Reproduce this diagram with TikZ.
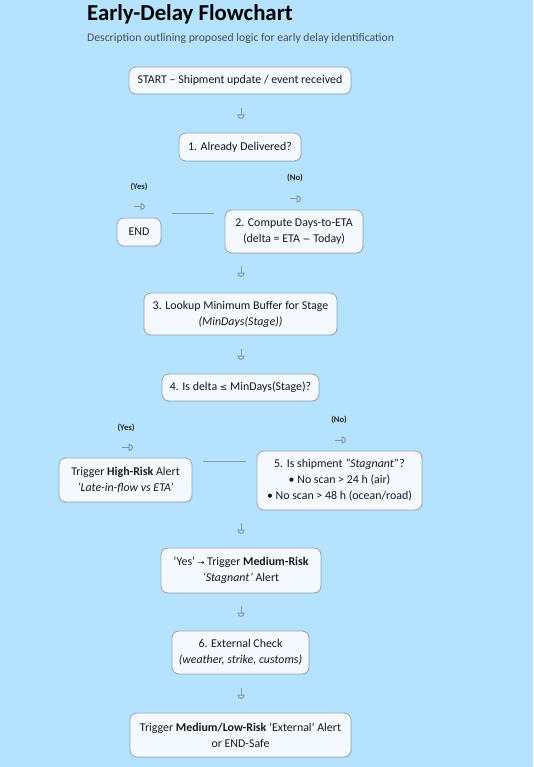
\documentclass[tikz,border=0pt]{standalone}
\usepackage{fontspec}
\setmainfont{Carlito}
\newfontfamily\symf{DejaVu Sans}
\usetikzlibrary{shadows}
\definecolor{bg}{HTML}{B5E2FF}
\definecolor{boxfill}{HTML}{F3F9FF}
\definecolor{boxline}{HTML}{9AA4AE}
\definecolor{conn}{HTML}{8A96A6}
\definecolor{subtxt}{HTML}{4A4F55}
\tikzset{
  box/.style={draw=boxline, line width=0.8pt, fill=boxfill, rounded corners=7pt,
    align=center, inner sep=0pt, text=black!90,
    font=\fontsize{11.9}{16}\selectfont,
    drop shadow={opacity=0.12, shadow xshift=0.8pt, shadow yshift=-1pt}},
  lbl/.style={font=\fontsize{8.6}{9}\selectfont\bfseries, text=black!85},
  hline/.style={draw=conn, line width=1.4pt},
  vtip/.pic={
    \draw[conn, line width=1pt] (0,-5) -- (0,2);
    \draw[conn, line width=1pt] (-3,2) -- (3,2) .. controls (3,6.5) and (-3,6.5) .. (-3,2) -- cycle;
  },
  htip/.pic={
    \draw[conn, line width=1pt] (-6,0) -- (1,0);
    \draw[conn, line width=1pt] (1,-3) -- (1,3) .. controls (5.5,3) and (5.5,-3) .. (1,-3) -- cycle;
  }
}
\begin{document}
\begin{tikzpicture}[x=1pt, y=-1pt]
\useasboundingbox (0,0) rectangle (533,767);
\fill[bg] (0,0) rectangle (533,767);

\node[anchor=base west, inner sep=0pt, font=\fontsize{22.8}{24}\selectfont\bfseries] (title) at (87,21) {Early-Delay Flowchart};
\node[anchor=base west, inner sep=0pt, text=subtxt, font=\fontsize{11.7}{12}\selectfont] (sub) at (87,42) {Description outlining proposed logic for early delay identification};

\node[box, minimum width=222, minimum height=27] (start) at (240,80.5) {START – Shipment update / event received};
\node[box, minimum width=122, minimum height=28] (b1) at (240,147) {1. Already Delivered?};
\node[box, minimum width=44, minimum height=28] (end) at (139,232) {END};
\node[box, minimum width=138, minimum height=43] (b2) at (294,231.5) {2. Compute Days-to-ETA\\(delta = ETA {\symf\fontsize{9.5}{16}\selectfont −} Today)};
\node[box, minimum width=193, minimum height=42] (b3) at (240.5,314) {3. Lookup Minimum Buffer for Stage\\\textit{(MinDays(Stage))}};
\node[box, minimum width=157, minimum height=27] (b4) at (240.5,387.5) {4. Is delta {\symf\fontsize{9}{16}\selectfont ≤} MinDays(Stage)?};
\node[box, minimum width=133, minimum height=44] (hr) at (125.5,480) {Trigger \textbf{High-Risk} Alert\\\textit{‘Late-in-flow vs ETA’}};
\node[box, minimum width=165, minimum height=59] (b5) at (339.5,480.5) {5. Is shipment \textit{“Stagnant”}?\\• No scan > 24 h (air)\\• No scan > 48 h (ocean/road)};
\node[box, minimum width=160, minimum height=45] (mr) at (241,570.5) {‘Yes’ {\symf\fontsize{8}{16}\selectfont →} Trigger \textbf{Medium-Risk}\\\textit{‘Stagnant’} Alert};
\node[box, minimum width=137, minimum height=43] (b6) at (240.5,652.5) {6. External Check\\\textit{(weather, strike, customs)}};
\node[box, minimum width=221, minimum height=44] (fin) at (240.5,735) {Trigger \textbf{Medium/Low-Risk} ‘External’ Alert\\or END-Safe};

% branch labels
\node[lbl] (yes1) at (139,186.5) {(Yes)};
\node[lbl] (no1) at (295,178) {(No)};
\node[lbl] (yes2) at (126,427.5) {(Yes)};
\node[lbl] (no2) at (339,419.5) {(No)};

% flow glyphs
\pic at (241,113) {vtip};
\pic at (241,271) {vtip};
\pic at (241,354) {vtip};
\pic at (241,528) {vtip};
\pic at (241,611) {vtip};
\pic at (241,693) {vtip};
\pic at (140,206.5) {htip};
\pic at (296,199) {htip};
\pic at (128,447.5) {htip};
\pic at (341,440) {htip};

% separator lines
\coordinate (l1a) at (172,213.3);
\coordinate (l1b) at (214,213.3);
\coordinate (l2a) at (203,461.7);
\coordinate (l2b) at (246,461.7);
\draw[hline] (l1a) -- (l1b);
\draw[hline] (l2a) -- (l2b);
\end{tikzpicture}
\end{document}
